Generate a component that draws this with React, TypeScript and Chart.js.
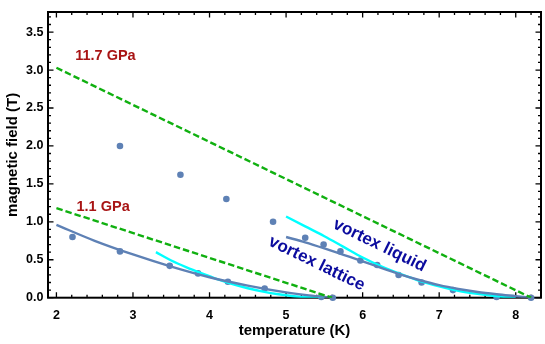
import { useEffect, useRef } from "react";
import { Chart, registerables } from "chart.js";

Chart.register(...registerables);

// ---- data ----
const lowPressureT = [2.21, 2.83, 3.48, 3.85, 4.24, 4.72, 5.46, 5.61];
const lowPressureH = [0.8, 0.61, 0.42, 0.32, 0.21, 0.12, 0.01, 0.0];

const highPressureT = [2.83, 3.62, 4.22, 4.83, 5.25, 5.49, 5.71, 5.97, 6.19, 6.47, 6.77, 7.18, 7.75, 8.2];
const highPressureH = [2.0, 1.62, 1.3, 1.0, 0.79, 0.7, 0.61, 0.49, 0.43, 0.3, 0.2, 0.1, 0.01, 0.0];

// upper-critical-field bounds (dashed green)
const hc2HighT = [2.0, 8.2];
const hc2HighH = [3.03, 0.0];
const hc2LowT = [2.0, 5.6];
const hc2LowH = [1.18, 0.0];

// fits (solid blue)
const fitLowT = [2.0, 2.5, 3.0, 3.5, 4.0, 4.5, 5.0, 5.3, 5.6];
const fitLowH = [0.96, 0.75, 0.57, 0.41, 0.27, 0.16, 0.07, 0.03, 0.0];
const fitHighT = [5.0, 5.25, 5.5, 5.75, 6.0, 6.25, 6.5, 6.75, 7.0, 7.25, 7.5, 7.75, 8.0, 8.2];
const fitHighH = [0.8, 0.73, 0.65, 0.565, 0.48, 0.39, 0.305, 0.23, 0.165, 0.115, 0.075, 0.045, 0.02, 0.0];

// melting lines (cyan)
const meltLowT = [3.3, 3.5, 3.7, 3.9, 4.1, 4.3, 4.5, 4.7, 4.9, 5.1, 5.3, 5.5];
const meltLowH = [0.6, 0.49, 0.4, 0.32, 0.245, 0.18, 0.125, 0.08, 0.045, 0.02, 0.005, 0.0];
const meltHighT = [5.0, 5.25, 5.5, 5.75, 6.0, 6.25, 6.5, 6.75, 7.0, 7.25, 7.5, 7.75, 8.0];
const meltHighH = [1.07, 0.94, 0.81, 0.67, 0.53, 0.41, 0.31, 0.22, 0.15, 0.09, 0.05, 0.02, 0.0];

const xTicks = [2, 3, 4, 5, 6, 7, 8];
const yTicks = [0, 0.5, 1.0, 1.5, 2.0, 2.5, 3.0, 3.5];

const labels = [
  { text: "11.7 GPa", x: 2.64, y: 3.19, color: "#A81414", size: 14.5, angle: 0 },
  { text: "1.1 GPa", x: 2.61, y: 1.19, color: "#A81414", size: 14.5, angle: 0 },
  { text: "vortex liquid", x: 6.22, y: 0.69, color: "#0B0B9E", size: 17, angle: 26 },
  { text: "vortex lattice", x: 5.4, y: 0.45, color: "#0B0B9E", size: 17, angle: 26 },
];

const FONT = "'Liberation Sans', Arial, Helvetica, sans-serif";
const BLUE = "#5E81B5";
const GREEN = "#10B010";
const CYAN = "#00FFFF";

const pts = (xs: number[], ys: number[]) => xs.map((x, i) => ({ x, y: ys[i] }));

const framePlugin = {
  id: "frame",
  beforeDatasetsDraw(chart: any) {
    const { ctx, chartArea: a, scales } = chart;
    const xs = scales.x;
    const ys = scales.y;
    ctx.save();
    ctx.strokeStyle = "#000";
    ctx.lineWidth = 1.3;
    const drawX = (v: number, len: number) => {
      const px = xs.getPixelForValue(v);
      ctx.beginPath();
      ctx.moveTo(px, a.bottom);
      ctx.lineTo(px, a.bottom - len);
      ctx.moveTo(px, a.top);
      ctx.lineTo(px, a.top + len);
      ctx.stroke();
    };
    const drawY = (v: number, len: number) => {
      const py = ys.getPixelForValue(v);
      ctx.beginPath();
      ctx.moveTo(a.left, py);
      ctx.lineTo(a.left + len, py);
      ctx.moveTo(a.right, py);
      ctx.lineTo(a.right - len, py);
      ctx.stroke();
    };
    for (let i = 0; i <= 40; i++) {
      const v = Math.round((1.8 + i * 0.2) * 10) / 10;
      if (v < xs.min || v > xs.max) continue;
      const major = Math.abs(v - Math.round(v)) < 1e-6;
      drawX(v, major ? 5.5 : 3);
    }
    for (let i = 0; i <= 40; i++) {
      const v = Math.round(i) / 10;
      if (v < ys.min || v > ys.max) continue;
      const major = i % 5 === 0;
      drawY(v, major ? 5.5 : 3);
    }
    ctx.lineWidth = 2;
    ctx.strokeRect(a.left, a.top, a.right - a.left, a.bottom - a.top);
    ctx.restore();
  },
  afterDatasetsDraw(chart: any) {
    const { ctx, scales } = chart;
    ctx.save();
    for (const l of labels) {
      const px = scales.x.getPixelForValue(l.x);
      const py = scales.y.getPixelForValue(l.y);
      ctx.translate(px, py);
      ctx.rotate((l.angle * Math.PI) / 180);
      ctx.font = `bold ${l.size}px ${FONT}`;
      ctx.fillStyle = l.color;
      ctx.textAlign = "center";
      ctx.textBaseline = "middle";
      ctx.fillText(l.text, 0, 0);
      ctx.setTransform(1, 0, 0, 1, 0, 0);
    }
    ctx.restore();
  },
};

export default function App() {
  const ref = useRef<HTMLCanvasElement | null>(null);
  useEffect(() => {
    document.body.style.margin = "0";
    const canvas = ref.current;
    if (!canvas) return;
    const lineDs = (label: string, xs: number[], ys: number[], color: string, dash: number[] = []) => ({
      label,
      data: pts(xs, ys),
      showLine: true,
      borderColor: color,
      backgroundColor: color,
      borderWidth: 2.4,
      borderDash: dash,
      pointRadius: 0,
      pointHoverRadius: 0,
      tension: 0.4,
      cubicInterpolationMode: "monotone" as const,
    });
    const chart = new Chart(canvas, {
      type: "scatter",
      data: {
        datasets: [
          { ...lineDs("Hc2 11.7 GPa", hc2HighT, hc2HighH, GREEN, [6.5, 3]), tension: 0 },
          { ...lineDs("Hc2 1.1 GPa", hc2LowT, hc2LowH, GREEN, [6.5, 3]), tension: 0 },
          lineDs("fit 1.1 GPa", fitLowT, fitLowH, BLUE),
          lineDs("fit 11.7 GPa", fitHighT, fitHighH, BLUE),
          lineDs("melting 1.1 GPa", meltLowT, meltLowH, CYAN),
          lineDs("melting 11.7 GPa", meltHighT, meltHighH, CYAN),
          {
            label: "data 1.1 GPa",
            data: pts(lowPressureT, lowPressureH),
            backgroundColor: BLUE,
            borderColor: BLUE,
            pointRadius: 3.3,
            borderWidth: 0,
            clip: false as any,
          },
          {
            label: "data 11.7 GPa",
            data: pts(highPressureT, highPressureH),
            backgroundColor: BLUE,
            borderColor: BLUE,
            pointRadius: 3.3,
            borderWidth: 0,
            clip: false as any,
          },
        ],
      },
      options: {
        animation: false,
        responsive: false,
        devicePixelRatio: 1,
        layout: { padding: { left: 0, right: 3.3, top: 3.3, bottom: 0 } },
        plugins: { legend: { display: false }, tooltip: { enabled: false } },
        scales: {
          x: {
            type: "linear",
            min: 1.89,
            max: 8.33,
            grid: { display: false, drawTicks: false },
            border: { display: false },
            afterBuildTicks: (s: any) => {
              s.ticks = xTicks.map((v) => ({ value: v }));
            },
            afterFit: (s: any) => {
              s.height = 46.3;
            },
            ticks: {
              padding: 10,
              color: "#000",
              font: { family: FONT, size: 12.5, weight: "bold" },
              callback: (v: any) => String(v),
            },
            title: {
              display: true,
              text: "temperature (K)",
              color: "#000",
              font: { family: FONT, size: 15, weight: "bold" },
              padding: { top: 0, bottom: 4 },
            },
          },
          y: {
            type: "linear",
            min: 0,
            max: 3.765,
            grid: { display: false, drawTicks: false },
            border: { display: false },
            afterBuildTicks: (s: any) => {
              s.ticks = yTicks.map((v) => ({ value: v }));
            },
            afterFit: (s: any) => {
              s.width = 48;
            },
            ticks: {
              padding: 4.5,
              color: "#000",
              font: { family: FONT, size: 12.5, weight: "bold" },
              callback: (v: any) => Number(v).toFixed(1),
            },
            title: {
              display: true,
              text: "magnetic field (T)",
              color: "#000",
              font: { family: FONT, size: 15, weight: "bold" },
              padding: { top: 4, bottom: 0 },
            },
          },
        },
      },
      plugins: [framePlugin],
    });
    return () => chart.destroy();
  }, []);
  return (
    <div style={{ position: "absolute", left: 0, top: 0, width: 545, height: 344 }}>
      <canvas ref={ref} width={545} height={344} />
    </div>
  );
}
